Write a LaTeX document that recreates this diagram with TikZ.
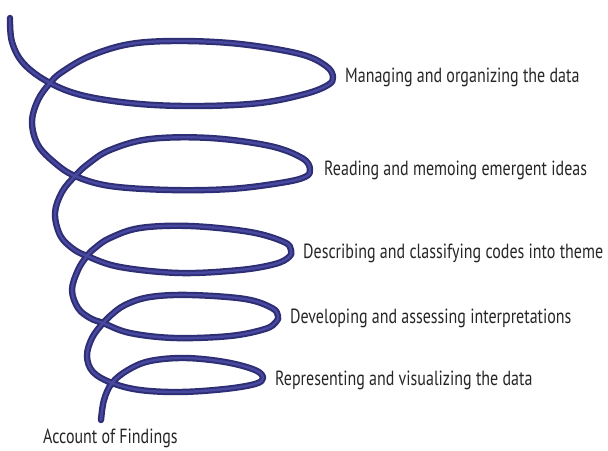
\documentclass[tikz,border=0pt]{standalone}
\usepackage{fontspec}
\setmainfont{PT Sans}[FakeStretch=0.78]
\usepackage{tikz}
\definecolor{tubecolor}{HTML}{2E2E74}
\definecolor{tubelight}{HTML}{4848A0}

\tikzset{
  tube/.style={color=tubecolor, double=tubelight, line width=2pt,
    double distance=2.4pt, line cap=round, line join=round},
  steplabel/.style={anchor=west, inner sep=0pt, font=\fontsize{20.5}{24}\selectfont, text=black!85}
}

\begin{document}
\begin{tikzpicture}[x=1pt,y=-1pt]
\useasboundingbox (0,0) rectangle (608,450);
%% the spiral, top to bottom, one loop per step
\draw[tube] plot[smooth,tension=0.6] coordinates {
  (10,18) (12,42) (24,64) (50,83)
  (85,96) (140,104) (200,106) (260,103) (305,94) (328,85) (333,77)
  (326,66) (300,54) (240,44) (180,41) (130,44) (90,56) (62,72) (50,83)
  (38,100) (32,122) (38,145) (55,163) (75,176)
  (110,186) (170,190) (230,189) (280,183) (305,177) (310,169)
  (302,158) (270,146) (210,138) (150,139) (110,150) (88,164) (75,176)
  (62,192) (55,213) (60,235) (72,248) (87,256)
  (120,267) (180,273) (240,270) (275,264) (289,257) (291,250)
  (284,242) (250,232) (190,226) (140,228) (110,238) (95,248) (87,256)
  (78,270) (72,290) (78,308) (90,318) (103,323)
  (130,333) (175,338) (230,336) (265,329) (276,322) (278,316)
  (272,308) (245,299) (190,295) (150,297) (125,305) (110,316) (103,323)
  (92,338) (87,356) (93,372) (112,383)
  (140,390) (180,392) (225,389) (255,384) (263,378)
  (255,370) (225,362) (185,358) (150,361) (128,370) (112,383)
  (104,400) (101,420)};
\foreach \x/\y/\name/\txt in {345/77/managing/Managing and organizing the data,
    324/170/reading/Reading and memoing emergent ideas,
    303/253/describing/Describing and classifying codes into theme,
    290/318/developing/Developing and assessing interpretations,
    275/380/representing/Representing and visualizing the data,
    43/438/findings/Account of Findings}
  \node[steplabel] (\name) at (\x,\y) {\txt};
\end{tikzpicture}
\end{document}
